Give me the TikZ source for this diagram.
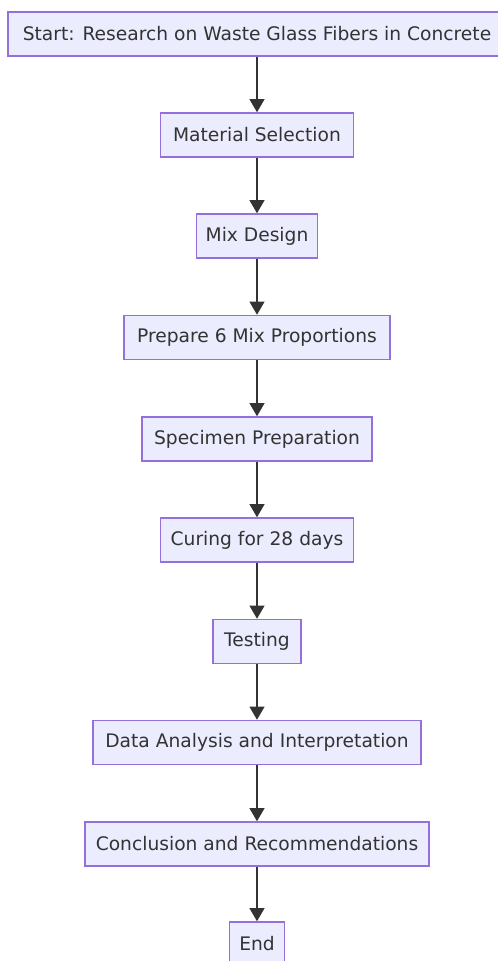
\documentclass[tikz,border=0pt]{standalone}
\usepackage{fontspec}
\setmainfont{DejaVu Sans}
\usetikzlibrary{arrows.meta,positioning}
\definecolor{nodefill}{HTML}{ECECFF}
\definecolor{nodeline}{HTML}{9370DB}
\definecolor{ink}{HTML}{333333}
\tikzset{
  stage/.style={draw=nodeline, fill=nodefill, line width=1pt, minimum height=33pt,
                inner sep=0pt, align=center, font=\fontsize{14}{16}\selectfont, text=ink},
  flow/.style={-{Triangle[length=10pt,width=11pt]}, draw=ink, line width=2pt},
}
\begin{document}
\begin{tikzpicture}[x=0.75pt, y=-0.75pt]
  \useasboundingbox (0,0) rectangle (497,961);
  \node[stage, minimum width=373.5pt] (start) at (257,34) {Start: Research on Waste Glass Fibers in Concrete};
  \node[stage, minimum width=144.75pt] (mat) at (257,135) {Material Selection};
  \node[stage, minimum width=90.75pt] (mix) at (257,236) {Mix Design};
  \node[stage, minimum width=199.5pt] (prep) at (257,337.5) {Prepare 6 Mix Proportions};
  \node[stage, minimum width=172.5pt] (spec) at (257,439) {Specimen Preparation};
  \node[stage, minimum width=144.75pt] (cure) at (257,540) {Curing for 28 days};
  \node[stage, minimum width=66pt] (test) at (257,641.5) {Testing};
  \node[stage, minimum width=246pt] (data) at (257,742.5) {Data Analysis and Interpretation};
  \node[stage, minimum width=258pt] (concl) at (257,844) {Conclusion and Recommendations};
  \node[stage, minimum width=41.25pt] (end) at (257,944) {End};
  \foreach \a/\b in {start/mat, mat/mix, mix/prep, prep/spec, spec/cure,
                     cure/test, test/data, data/concl, concl/end}
    \draw[flow] (\a) -- (\b);
\end{tikzpicture}
\end{document}
